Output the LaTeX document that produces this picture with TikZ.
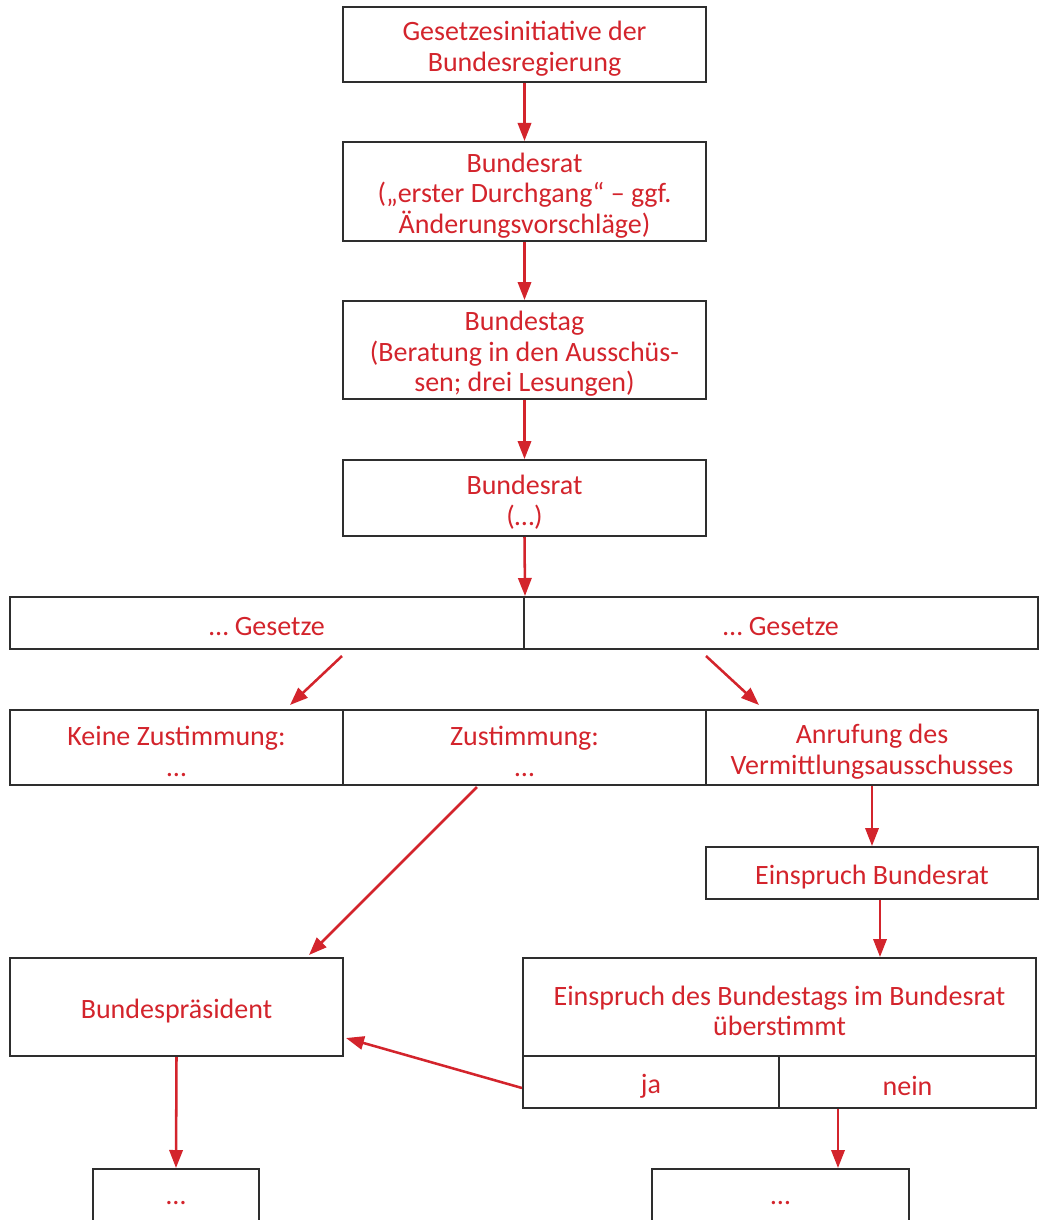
\documentclass[tikz,border=0pt]{standalone}
\usepackage{fontspec}
\setmainfont{Carlito}
\usetikzlibrary{arrows.meta,calc}
\newcommand\pxu{0.75pt}
\definecolor{flowred}{HTML}{D3242C}
\definecolor{framegray}{HTML}{2E2E2E}
% a framed cell: name, centre, width, height, text (text sits slightly low)
\newcommand\cellbox[5]{%
  \node[frame={#3}{#4}] (#1) at (#2) {};
  \node[celltext] (#1-t) at ($(#1)+(0,4)$) {#5};}
\begin{document}
\begin{tikzpicture}[x=0.75pt,y=-0.75pt,
  frame/.style 2 args={draw=framegray,line width=1.5pt,inner sep=0pt,
    minimum width=#1*\pxu,minimum height=#2*\pxu},
  celltext/.style={text=flowred,align=center,inner sep=0pt,
    font=\fontsize{21}{22.9}\selectfont},
  flow/.style={draw=flowred,line width=1.9pt,
    -{Triangle[length=13.5pt,width=10pt]}}]
\useasboundingbox (0,0) rectangle (1039,1220);

% main column
\cellbox{b1}{524.5,44.5}{363}{75}{Gesetzesinitiative der\\Bundesregierung}
\cellbox{b2}{524.5,191.5}{363}{99}{Bundesrat\\(„erster Durchgang“ – ggf.\\Änderungsvorschläge)}
\cellbox{b3}{524.5,350}{363}{98}{Bundestag\\(Beratung in den Ausschüs-\\sen; drei Lesungen)}
\cellbox{b4}{524.5,498}{363}{76}{Bundesrat\\(…)}

% kinds of laws
\cellbox{g1}{267,623}{514}{52}{… Gesetze}
\cellbox{g2}{781,623}{514}{52}{… Gesetze}

% outcomes
\cellbox{k1}{176.5,747.5}{333}{75}{Keine Zustimmung:\\…}
\cellbox{k2}{524.5,747.5}{363}{75}{Zustimmung:\\…}
\cellbox{k3}{872,747.5}{332}{75}{Anrufung des\\Vermittlungsausschusses}

\cellbox{ein}{872,873}{332}{52}{Einspruch Bundesrat}

\cellbox{ueb}{779.5,1007}{513}{98}{Einspruch des Bundestags im Bundesrat\\überstimmt}
\cellbox{ja}{651,1082}{256}{52}{ja}
\cellbox{nein}{907.5,1082}{257}{52}{nein}

\cellbox{bp}{176.5,1007}{333}{98}{Bundespräsident}

\cellbox{e1}{176,1199}{166}{60}{…}
\cellbox{e2}{780.5,1199}{257}{60}{…}

% free ends of the offset connectors
\coordinate (einOut) at ($(ein.south)+(8,0)$);
\coordinate (neinOut) at ($(nein.south west)+(60,0)$);

% connectors
\draw[flow] (b1.south) -- (b2.north);
\draw[flow] (b2.south) -- (b3.north);
\draw[flow] (b3.south) -- (b4.north);
\draw[flow] (b4.south) -- (g1.north east);
\draw[flow] ($(g1.south)+(75,6)$) -- ($(k1.north)+(113.5,-4)$);
\draw[flow] ($(g2.south)+(-75,6)$) -- ($(k3.north)+(-113,-4)$);
\draw[flow] ($(k2.south)+(-47.5,1)$) -- ($(bp.north)+(132.5,-2)$);
\draw[flow] (k3.south) -- (ein.north);
\draw[flow] (einOut) -- (einOut |- ueb.north);
\draw[flow] ($(ja.west)+(0,6)$) -- ($(bp.east)+(2,31)$);
\draw[flow] (bp.south) -- (e1.north);
\draw[flow] (neinOut) -- (neinOut |- e2.north);
\end{tikzpicture}
\end{document}
